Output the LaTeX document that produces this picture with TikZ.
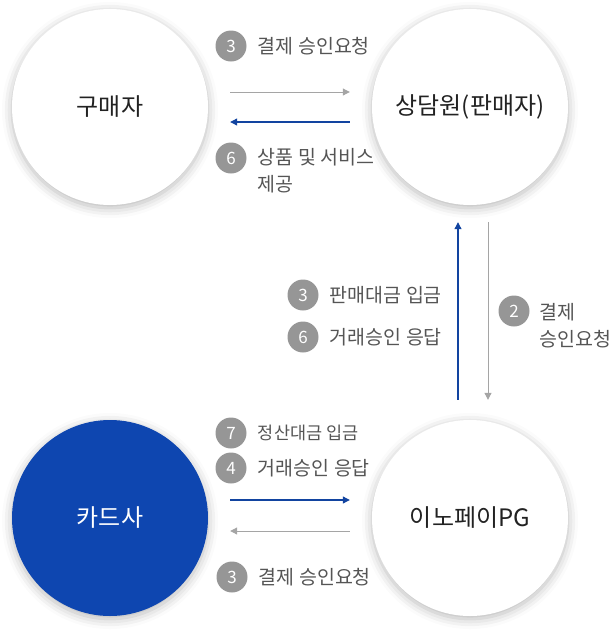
\documentclass[tikz,border=0pt]{standalone}
\usepackage{fontspec}
\setmainfont{Noto Sans CJK KR}
\usepackage{tikz}
\usetikzlibrary{arrows.meta,positioning,shadows.blur}

\definecolor{cardblue}{RGB}{14,70,176}
\definecolor{arrowblue}{RGB}{18,68,160}
\definecolor{arrowgray}{RGB}{165,165,165}
\definecolor{badgegray}{RGB}{150,150,150}
\definecolor{lbltext}{RGB}{85,85,85}
\definecolor{partytext}{RGB}{34,34,34}

\begin{document}
\begin{tikzpicture}[x=1pt,y=-1pt,
  party/.style={circle,fill=white,minimum size=196pt,inner sep=0pt,text=partytext,font=\fontsize{24}{28}\selectfont,
    blur shadow={shadow xshift=0pt,shadow yshift=-3pt,shadow blur radius=10pt,shadow opacity=28}},
  badge/.style={circle,fill=badgegray,minimum size=31pt,inner sep=0pt,text=white,font=\fontsize{17}{20}\selectfont},
  lbl/.style={inner sep=0pt,text=lbltext,font=\fontsize{19.5}{27}\selectfont,align=left},
  grayarrow/.style={draw=arrowgray,line width=1pt,-{Triangle[length=7pt,width=7pt]}},
  bluearrow/.style={draw=arrowblue,line width=1.1pt,-{Triangle[length=7pt,width=7pt]}}]

\useasboundingbox (0,0) rectangle (611,641);

\node[party] (buyer) at (110,107) {구매자};
\node[party] (seller) at (470,107) {상담원(판매자)};
\node[party,fill=cardblue,text=white] (card) at (110,518) {카드사};
\node[party] (pg) at (470,518) {이노페이PG};

% buyer <-> seller
\draw[grayarrow,shorten <=22pt,shorten >=22pt] ([yshift=15pt]buyer.east) -- ([yshift=15pt]seller.west);
\draw[bluearrow,shorten <=22pt,shorten >=22pt] ([yshift=-15pt]seller.west) -- ([yshift=-15pt]buyer.east);
\node[badge] (b1) at (231,46) {3};
\node[lbl,right=11pt of b1] (t1) {결제 승인요청};
\node[badge] (b2) at (231,158) {6};
\node[lbl,anchor=north west] (t2) at ([xshift=11pt,yshift=10pt]b2.east) {상품 및 서비스\\제공};

% seller <-> pg
\draw[bluearrow,shorten <=20pt,shorten >=17pt] ([xshift=-12pt]pg.north) -- ([xshift=-12pt]seller.south);
\draw[grayarrow,shorten <=17pt,shorten >=20pt] ([xshift=18pt]seller.south) -- ([xshift=18pt]pg.north);
\node[badge] (b3) at (303,295) {3};
\node[lbl,right=11pt of b3] (t3) {판매대금 입금};
\node[badge] (b4) at (303,337) {6};
\node[lbl,right=11pt of b4] (t4) {거래승인 응답};
\node[badge] (b5) at (514,311) {2};
\node[lbl,anchor=north west] (t5) at ([xshift=10pt,yshift=8pt]b5.east) {결제\\승인요청};

% card <-> pg
\draw[bluearrow,shorten <=22pt,shorten >=22pt] ([yshift=18pt]card.east) -- ([yshift=18pt]pg.west);
\draw[grayarrow,shorten <=22pt,shorten >=22pt] ([yshift=-13pt]pg.west) -- ([yshift=-13pt]card.east);
\node[badge] (b6) at (231,433) {7};
\node[lbl,right=11pt of b6,font=\fontsize{17.5}{20}\selectfont] (t6) {정산대금 입금};
\node[badge] (b7) at (231,468) {4};
\node[lbl,right=11pt of b7] (t7) {거래승인 응답};
\node[badge] (b8) at (232,577) {3};
\node[lbl,right=11pt of b8] (t8) {결제 승인요청};

\end{tikzpicture}
\end{document}
